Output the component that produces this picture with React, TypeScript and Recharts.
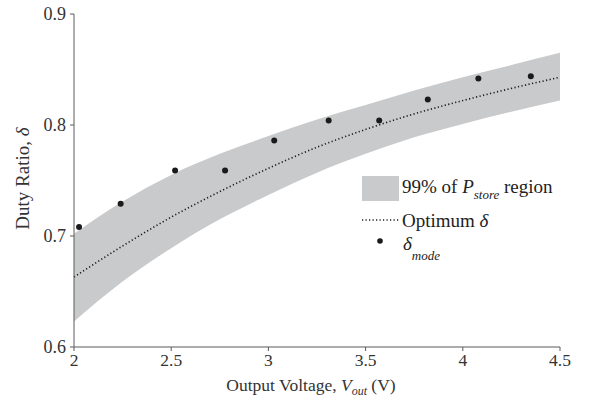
import React from 'react'
import {
  Area,
  ComposedChart,
  Line,
  Scatter,
  XAxis,
  YAxis,
} from 'recharts'

// sampled Vout grid for the optimum curve and the 99% band
const vout = [2.0, 2.25, 2.5, 2.75, 3.0, 3.25, 3.5, 3.75, 4.0, 4.25, 4.5]
const bandUpper = [0.702, 0.731, 0.755, 0.774, 0.79, 0.805, 0.818, 0.831, 0.843, 0.854, 0.865]
const bandLower = [0.623, 0.659, 0.689, 0.715, 0.737, 0.757, 0.774, 0.789, 0.801, 0.812, 0.822]
const optimum = [0.663, 0.691, 0.717, 0.74, 0.761, 0.78, 0.796, 0.81, 0.822, 0.833, 0.843]

// measured mode of the duty ratio
const modeVout = [2.026, 2.24, 2.52, 2.777, 3.03, 3.31, 3.57, 3.82, 4.08, 4.35]
const modeDelta = [0.708, 0.729, 0.759, 0.759, 0.786, 0.804, 0.804, 0.823, 0.842, 0.844]

const xTicks = [2, 2.5, 3, 3.5, 4, 4.5]
const yTicks = [0.6, 0.7, 0.8, 0.9]

const FONT = '"Liberation Serif", "Times New Roman", serif'
const BAND = '#c9cacb'
const INK = '#1a1a1a'
const AXIS = '#5a5a5a'

const rows = vout.map((x, i) => ({
  x,
  band: [bandLower[i], bandUpper[i]],
  opt: optimum[i],
}))
const modePoints = modeVout.map((x, i) => ({ x, mode: modeDelta[i] }))

function XTitle(props: any) {
  const vb = props.viewBox
  const cx = vb.x + vb.width / 2 - 6
  return (
    <text x={cx} y={vb.y + 44} textAnchor="middle" fontFamily={FONT} fontSize={17.5} fill="#333">
      <tspan>Output Voltage, </tspan>
      <tspan fontStyle="italic">V</tspan>
      <tspan fontStyle="italic" fontSize={12} dy={4}>out</tspan>
      <tspan dy={-4}> (V)</tspan>
    </text>
  )
}

function YTitle(props: any) {
  const vb = props.viewBox
  const cy = vb.y + vb.height / 2 - 2
  const cx = 29
  return (
    <text
      x={cx}
      y={cy}
      textAnchor="middle"
      transform={`rotate(-90 ${cx} ${cy})`}
      fontFamily={FONT}
      fontSize={19}
      fill="#333"
    >
      <tspan>Duty Ratio, </tspan>
      <tspan fontStyle="italic">δ</tspan>
    </text>
  )
}

function LegendBox() {
  return (
    <svg
      width={240}
      height={100}
      style={{ position: 'absolute', left: 355, top: 170 }}
      fontFamily={FONT}
      fill="#222"
    >
      <rect x={7} y={6} width={37} height={25} fill={BAND} />
      <text x={47} y={23} fontSize={19}>
        99% of <tspan fontStyle="italic">P</tspan>
        <tspan fontStyle="italic" fontSize={13} dy={6}>store</tspan>
        <tspan dy={-6}> region</tspan>
      </text>
      <line x1={7} x2={45} y1={50} y2={50} stroke={INK} strokeWidth={1.5} strokeDasharray="1.2 2.3" />
      <text x={47} y={57} fontSize={19}>
        Optimum <tspan fontStyle="italic">δ</tspan>
      </text>
      <circle cx={25} cy={71} r={2.8} fill={INK} />
      <text x={48} y={80} fontSize={19} fontStyle="italic">
        δ<tspan fontSize={13} dy={10}>mode</tspan>
      </text>
    </svg>
  )
}

export default function App() {
  return (
    <div style={{ position: 'absolute', left: 0, top: 0, width: 591, height: 402, background: '#fff' }}>
      <ComposedChart
        width={591}
        height={402}
        data={rows}
        margin={{ top: 14, right: 31, bottom: 25, left: 24 }}
      >
        <XAxis
          type="number"
          dataKey="x"
          domain={[2, 4.5]}
          ticks={xTicks}
          tickFormatter={(v: number) => String(v)}
          stroke={AXIS}
          tickSize={4}
          tickMargin={3}
          height={30}
          tick={{ fill: '#333', fontSize: 17.5, fontFamily: FONT }}
          label={XTitle}
        />
        <YAxis
          type="number"
          domain={[0.6, 0.9]}
          ticks={yTicks}
          tickFormatter={(v: number) => v.toFixed(1)}
          stroke={AXIS}
          tickSize={4}
          tickMargin={4}
          width={50}
          tick={{ fill: '#333', fontSize: 18, fontFamily: FONT }}
          label={YTitle}
        />
        <Area
          type="monotone"
          dataKey="band"
          stroke="none"
          fill={BAND}
          fillOpacity={1}
          isAnimationActive={false}
        />
        <Line
          type="monotone"
          dataKey="opt"
          stroke={INK}
          strokeWidth={1.6}
          strokeDasharray="1.2 2.4"
          dot={false}
          isAnimationActive={false}
        />
        <Scatter
          data={modePoints}
          dataKey="mode"
          fill={INK}
          shape={(p: any) => <circle cx={p.cx} cy={p.cy} r={3} fill={INK} />}
          isAnimationActive={false}
        />
      </ComposedChart>
      <LegendBox />
    </div>
  )
}
